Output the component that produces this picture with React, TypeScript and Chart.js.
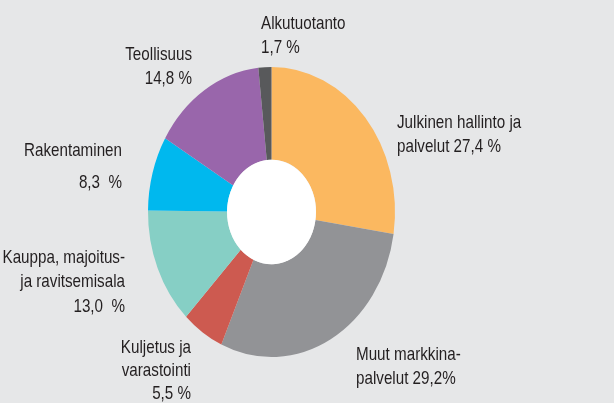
import React, { useEffect, useRef } from "react";
import { Chart, registerables } from "chart.js";

Chart.register(...registerables);

// ---- data ----
const categories = [
  "Julkinen hallinto ja palvelut",
  "Muut markkinapalvelut",
  "Kuljetus ja varastointi",
  "Kauppa, majoitus- ja ravitsemisala",
  "Rakentaminen",
  "Teollisuus",
  "Alkutuotanto",
];
const values = [27.4, 29.2, 5.5, 13.0, 8.3, 14.8, 1.7];
const labelLines = [
  ["Julkinen hallinto ja", "palvelut {v} %"],
  ["Muut markkina-", "palvelut {v}%"],
  ["Kuljetus ja", "varastointi", "{v} %"],
  ["Kauppa, majoitus-", "ja ravitsemisala", "{v}  %"],
  ["Rakentaminen", "{v}  %"],
  ["Teollisuus", "{v} %"],
  ["Alkutuotanto", "{v} %"],
];

// ---- styles / layout ----
const colors = ["#FBB860", "#929396", "#CD5A50", "#86CFC5", "#00B8EE", "#9966AB", "#58595B"];
const BG = "#E6E7E8";
const TEXT = "#231F20";
const FONT = '19px "Liberation Sans", Arial, sans-serif';
const TEXT_SX = 0.8;
const Y_STRETCH = 290 / 247;
// x, align, first baseline, line height
const labelLayout: [number, CanvasTextAlign, number, number][] = [
  [397, "left", 128, 24],
  [356, "left", 360, 23.5],
  [191, "right", 353, 23],
  [125, "right", 263, 24.3],
  [122, "right", 156, 32],
  [192, "right", 60, 23.5],
  [261, "left", 28.5, 24],
];

const fmt = (v: number) => v.toFixed(1).replace(".", ",");

const ellipsePlugin = {
  id: "ellipse",
  beforeDraw(chart: any) {
    const ctx = chart.ctx;
    ctx.save();
    ctx.fillStyle = BG;
    ctx.fillRect(0, 0, chart.width, chart.height);
    ctx.restore();
  },
  beforeDatasetsDraw(chart: any) {
    const arc = chart.getDatasetMeta(0).data[0] as any;
    const ctx = chart.ctx;
    ctx.save();
    ctx.translate(arc.x, arc.y);
    ctx.scale(1, Y_STRETCH);
    ctx.translate(-arc.x, -arc.y);
  },
  afterDatasetsDraw(chart: any) {
    const arc = chart.getDatasetMeta(0).data[0] as any;
    const ctx = chart.ctx;
    ctx.beginPath();
    ctx.arc(arc.x, arc.y, arc.innerRadius, 0, Math.PI * 2);
    ctx.fillStyle = "#FFFFFF";
    ctx.fill();
    ctx.restore();
  },
  afterDraw(chart: any) {
    const ctx = chart.ctx;
    labelLines.forEach((lines, i) => {
      const [x, align, y0, lh] = labelLayout[i];
      lines.forEach((line, j) => {
        ctx.save();
        ctx.font = FONT;
        ctx.fillStyle = TEXT;
        ctx.textBaseline = "alphabetic";
        ctx.textAlign = align;
        ctx.translate(x, y0 + j * lh);
        ctx.scale(TEXT_SX, 1);
        ctx.fillText(line.replace("{v}", fmt(values[i])), 0, 0);
        ctx.restore();
      });
    });
  },
};

export default function App() {
  const ref = useRef<HTMLCanvasElement>(null);
  useEffect(() => {
    document.body.style.margin = "0";
    const chart = new Chart(ref.current!, {
      type: "doughnut",
      data: {
        labels: categories,
        datasets: [
          {
            data: values,
            backgroundColor: colors,
            borderWidth: 0,
          },
        ],
      },
      options: {
        animation: false,
        responsive: false,
        cutout: "36%",
        layout: { padding: { left: 148, top: 88.5, right: 219, bottom: 67.5 } },
        plugins: { legend: { display: false }, tooltip: { enabled: false } },
      },
      plugins: [ellipsePlugin],
    });
    return () => chart.destroy();
  }, []);
  return (
    <div style={{ position: "fixed", left: 0, top: 0, width: 614, height: 403, background: BG }}>
      <canvas ref={ref} width={614} height={403} />
    </div>
  );
}
